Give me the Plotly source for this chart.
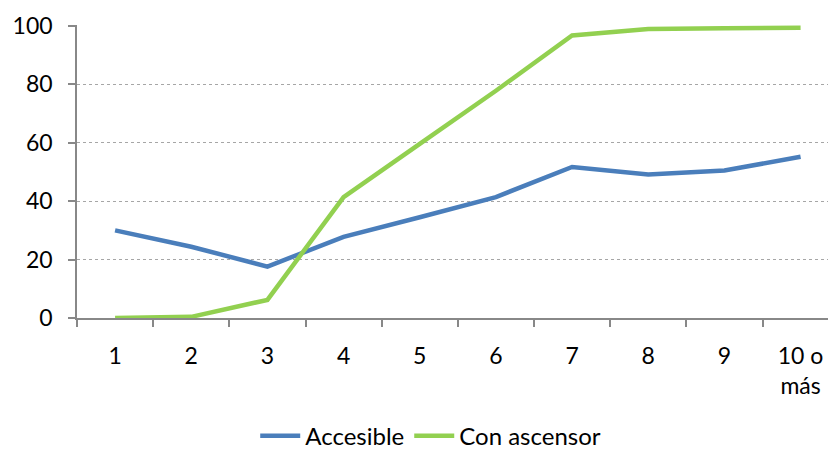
import plotly.graph_objects as go

categories = ["1", "2", "3", "4", "5", "6", "7", "8", "9", "10 o<br>más"]
accesible = [30.0, 24.4, 17.6, 27.8, 34.5, 41.4, 51.7, 49.1, 50.5, 55.2]
con_ascensor = [0.0, 0.4, 6.2, 41.4, 59.6, 77.8, 96.7, 98.9, 99.2, 99.4]
y_ticks = [0, 20, 40, 60, 80, 100]

font = dict(family="Lato, Carlito, Calibri, sans-serif", size=23, color="#000000")

fig = go.Figure()
fig.add_trace(go.Scatter(x=categories, y=accesible, mode="lines", name="Accesible",
                         line=dict(color="#4A7EBB", width=4.5)))
fig.add_trace(go.Scatter(x=categories, y=con_ascensor, mode="lines", name="Con ascensor",
                         line=dict(color="#92D050", width=4.5)))

fig.update_layout(
    width=828, height=451,
    margin=dict(l=77, r=0, t=25, b=133, autoexpand=False),
    paper_bgcolor="white", plot_bgcolor="white",
    font=font,
    showlegend=True,
    legend=dict(orientation="h", x=0.471, xanchor="center", y=-0.403, yanchor="middle",
                font=dict(size=24), itemwidth=40, tracegroupgap=0),
)
fig.update_xaxes(
    type="category", range=[-0.5, 9.36], automargin=False,
    tickson="boundaries", ticks="outside", ticklen=7, tickcolor="#888888", tickwidth=1.5,
    showline=True, linecolor="#888888", linewidth=1.5,
    showgrid=False, ticklabelstandoff=17,
    tickfont=dict(size=23),
)
fig.update_yaxes(
    range=[0, 100.3], tickvals=y_ticks, ticks="outside", ticklen=7, automargin=False,
    tickcolor="#888888", tickwidth=1.5,
    showline=True, linecolor="#888888", linewidth=1.5,
    showgrid=True, gridcolor="#A6A6A6", griddash="dot", gridwidth=1,
    zeroline=False, ticklabelstandoff=11,
    tickfont=dict(size=23),
)

fig.write_html(
    "out.html",
    config={"displayModeBar": False},
    post_script="document.body.style.margin='0';document.body.style.overflow='hidden';",
)
